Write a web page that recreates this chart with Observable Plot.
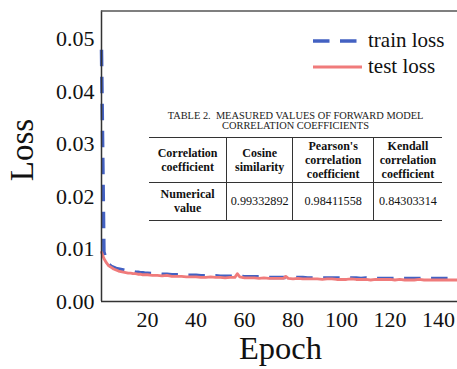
<!DOCTYPE html>
<html>
<head>
<meta charset="utf-8">
<script src="https://cdn.jsdelivr.net/npm/d3@7"></script>
<script src="https://cdn.jsdelivr.net/npm/@observablehq/plot@0.6"></script>
<style>
  html, body { margin: 0; padding: 0; background: #fff; }
  #wrap { position: relative; width: 457px; height: 369px; overflow: hidden; font-family: "Liberation Serif", serif; }
  #wrap svg { position: absolute; left: 0; top: 0; }
  #wrap svg text { font-family: "Liberation Serif", serif !important; }
  #tbltitle { position: absolute; left: 129px; top: 110.5px; width: 333px; text-align: center; font-family: "Liberation Serif", serif; font-size: 10.4px; line-height: 10px; color: #222; white-space: nowrap; }
  #tbl { position: absolute; left: 149px; top: 136.6px; border-collapse: collapse; font-family: "Liberation Serif", serif; font-size: 12px; line-height: 14px; color: #111; }
  #tbl td { font-family: "Liberation Serif", serif; text-align: center; vertical-align: middle; padding: 0; }
  #tbl tr.h td { height: 44px; font-weight: bold; border-top: 1.5px solid #333; border-bottom: 1.3px solid #333; }
  #tbl tr.b td { height: 37.5px; border-bottom: 1.5px solid #333; }
  #tbl td + td { border-left: 1.3px solid #333; }
  #tbl td.v { font-size: 12.2px; }
</style>
</head>
<body>
<div id="wrap"></div>
<script>
// ---- data ----
const epochs = [1,2,3,4,5,6,7,8,9,10,11,12,13,14,15,16,17,18,19,20,
  22,24,26,28,30,32,34,36,38,40,42,44,46,48,50,52,54,56,57,58,
  60,62,64,66,68,70,72,74,76,77,78,80,82,84,86,88,90,92,94,96,98,100,
  102,104,106,108,110,112,114,116,118,120,122,124,126,128,130,132,134,136,138,140,
  142,144,146,148];
const trainLoss = [0.0480,0.0095,0.0078,0.0071,0.0067,0.0065,0.0063,0.0062,0.0061,0.0060,
  0.0059,0.0058,0.0057,0.0057,0.0056,0.0056,0.0055,0.0055,0.0054,0.0054,
  0.0053,0.0053,0.0052,0.0052,0.0051,0.0051,0.0051,0.0050,0.0050,0.0050,
  0.0049,0.0049,0.0049,0.0049,0.0048,0.0048,0.0048,0.0048,0.0049,0.0048,
  0.0047,0.0047,0.0047,0.0047,0.0046,0.0046,0.0046,0.0046,0.0046,0.0046,0.0046,0.0046,
  0.0046,0.0046,0.0045,0.0045,0.0045,0.0045,0.0045,0.0045,0.0045,0.0045,
  0.0045,0.0045,0.0045,0.0044,0.0045,0.0044,0.0044,0.0044,0.0044,0.0044,
  0.0044,0.0044,0.0044,0.0044,0.0044,0.0044,0.0044,0.0044,0.0044,0.0044,
  0.0044,0.0044,0.0044,0.0044];
const testLoss = [0.0094,0.0082,0.0074,0.0068,0.0065,0.0062,0.0060,0.0058,0.0057,0.0056,
  0.0055,0.0054,0.0054,0.0053,0.0053,0.0052,0.0052,0.0051,0.0051,0.0051,
  0.0050,0.0050,0.0049,0.0050,0.0048,0.0048,0.0048,0.0047,0.0047,0.0047,
  0.0046,0.0046,0.0047,0.0046,0.0046,0.0045,0.0046,0.0046,0.0053,0.0047,
  0.0045,0.0045,0.0045,0.0044,0.0045,0.0044,0.0044,0.0044,0.0044,0.0048,0.0044,0.0043,
  0.0044,0.0043,0.0043,0.0043,0.0043,0.0042,0.0043,0.0043,0.0042,0.0042,
  0.0042,0.0043,0.0042,0.0042,0.0042,0.0041,0.0042,0.0042,0.0042,0.0042,
  0.0041,0.0042,0.0041,0.0041,0.0041,0.0042,0.0041,0.0041,0.0041,0.0041,
  0.0041,0.0041,0.0041,0.0041];
const seriesNames = ["train loss", "test loss"];
const xTicks = [20, 40, 60, 80, 100, 120, 140];
const yTicks = [0, 0.01, 0.02, 0.03, 0.04, 0.05];
const xLabel = "Epoch";
const yLabel = "Loss";
const tableTitle = ["TABLE 2.\u00a0 MEASURED VALUES OF FORWARD MODEL", "CORRELATION COEFFICIENTS"];
const tableHeader = [["Correlation", "coefficient"], ["Cosine", "similarity"], ["Pearson's", "correlation", "coefficient"], ["Kendall", "correlation", "coefficient"]];
const tableRowLabel = ["Numerical", "value"];
const tableValues = ["0.99332892", "0.98411558", "0.84303314"];

// ---- chart ----
const serif = "Liberation Serif";
const blue = "#4361c2";
const red = "#f07b7b";
const frameColor = "#333";
const xDomain = [1, 147.8];
const yDomain = [0, 0.0554];

const trainData = epochs.map((e, i) => ({epoch: e, loss: trainLoss[i]}));
const testData = epochs.map((e, i) => ({epoch: e, loss: testLoss[i]}));

const chart = Plot.plot({
  width: 457,
  height: 369,
  marginLeft: 101,
  marginRight: 0,
  marginTop: 10.5,
  marginBottom: 68,
  x: {domain: xDomain},
  y: {domain: yDomain},
  style: {fontFamily: serif, fontSize: "22px", color: "#111", background: "transparent", overflow: "visible"},
  marks: [
    Plot.axisX({ticks: xTicks, tickSize: 0, tickPadding: 9.4, label: null, fontFamily: serif, fontSize: 22}),
    Plot.axisY({ticks: yTicks, tickFormat: d3.format(".2f"), tickSize: 0, tickPadding: 7, label: null, fontFamily: serif, fontSize: 22}),
    Plot.line(trainData, {x: "epoch", y: "loss", stroke: blue, strokeWidth: 3.5, strokeDasharray: "16.5,10.5", strokeLinecap: "butt"}),
    Plot.line(testData, {x: "epoch", y: "loss", stroke: red, strokeWidth: 2.8}),
    Plot.ruleX([xDomain[0]], {stroke: frameColor, strokeWidth: 1.5}),
    Plot.ruleY([yDomain[0]], {stroke: frameColor, strokeWidth: 1.5}),
    Plot.ruleY([yDomain[1]], {stroke: "#555", strokeWidth: 1.3})
  ]
});

const wrap = document.getElementById("wrap");
wrap.appendChild(chart);

const svg = d3.select(chart);
// axis labels
svg.append("text")
  .attr("x", 280.5).attr("y", 359)
  .attr("text-anchor", "middle")
  .attr("font-family", serif)
  .attr("font-size", 32.5).attr("fill", "#111")
  .text(xLabel);
svg.append("text")
  .attr("transform", "translate(33,150) rotate(-90)")
  .attr("text-anchor", "middle")
  .attr("font-family", serif)
  .attr("font-size", 33).attr("fill", "#111")
  .text(yLabel);

// legend
const lg = svg.append("g").attr("text-anchor", "start");
lg.append("line").attr("x1", 313).attr("x2", 362).attr("y1", 41).attr("y2", 41)
  .attr("stroke", blue).attr("stroke-width", 3.5).attr("stroke-dasharray", "16.5,10.5");
lg.append("line").attr("x1", 313).attr("x2", 362).attr("y1", 67).attr("y2", 67)
  .attr("stroke", red).attr("stroke-width", 2.8);
lg.append("text").attr("x", 368).attr("y", 47).attr("text-anchor", "start").attr("font-family", serif).attr("font-size", 21).attr("fill", "#111").text(seriesNames[0]);
lg.append("text").attr("x", 368).attr("y", 73).attr("text-anchor", "start").attr("font-family", serif).attr("font-size", 21).attr("fill", "#111").text(seriesNames[1]);

// table inset
const title = document.createElement("div");
title.id = "tbltitle";
title.innerHTML = tableTitle.join("<br>");
wrap.appendChild(title);

const colW = [77.7, 66, 81, 68];
const tbl = document.createElement("table");
tbl.id = "tbl";
const cg = document.createElement("colgroup");
colW.forEach(w => { const c = document.createElement("col"); c.style.width = w + "px"; cg.appendChild(c); });
tbl.appendChild(cg);
const trh = document.createElement("tr"); trh.className = "h";
tableHeader.forEach(lines => { const td = document.createElement("td"); td.innerHTML = lines.join("<br>"); trh.appendChild(td); });
tbl.appendChild(trh);
const trb = document.createElement("tr"); trb.className = "b";
const tdl = document.createElement("td"); tdl.style.fontWeight = "bold"; tdl.innerHTML = tableRowLabel.join("<br>"); trb.appendChild(tdl);
tableValues.forEach(v => { const td = document.createElement("td"); td.className = "v"; td.textContent = v; trb.appendChild(td); });
tbl.appendChild(trb);
wrap.appendChild(tbl);
</script>
</body>
</html>
